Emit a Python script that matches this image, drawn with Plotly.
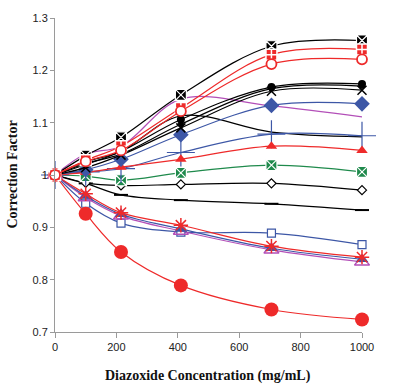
import plotly.graph_objects as go

conc = [0, 100, 215, 410, 705, 1000]

black_xsq = [1, 1.037, 1.072, 1.153, 1.246, 1.257]
black_circle = [1, 1.020, 1.045, 1.106, 1.168, 1.174]
black_line = [1, 1.022, 1.040, 1.097, 1.165, 1.170]
black_x = [1, 1.014, 1.038, 1.090, 1.160, 1.162]
black_drop = [1, 1.025, 1.045, 1.113, 1.082, 1.073]
black_odiamond = [1, 0.985, 0.980, 0.982, 0.984, 0.971]
black_dash = [1, 0.984, 0.962, 0.952, 0.945, 0.933]

red_sqplus = [1, 1.028, 1.055, 1.128, 1.230, 1.240]
red_ocircle = [1, 1.026, 1.047, 1.122, 1.212, 1.221]
red_triangle = [1, 1.005, 1.015, 1.030, 1.055, 1.047]
red_star = [1, 0.964, 0.928, 0.904, 0.864, 0.843]
red_bigcircle = [1, 0.926, 0.853, 0.789, 0.743, 0.724]

blue_diamond = [1, 1.010, 1.030, 1.077, 1.133, 1.136]
blue_cross = [1, 1.006, 1.012, 1.043, 1.078, 1.075]
blue_osquare = [1, 0.946, 0.908, 0.891, 0.889, 0.867]
blue_triangle = [1, 0.960, 0.925, 0.897, 0.860, 0.839]

purple_line = [1, 1.040, 1.055, 1.145, 1.132, 1.111]
purple_otriangle = [1, 0.957, 0.922, 0.893, 0.857, 0.834]

green_xsq = [1, 0.998, 0.990, 1.004, 1.019, 1.006]

y_ticks = [0.7, 0.8, 0.9, 1.0, 1.1, 1.2, 1.3]
y_tick_text = ["0.7", "0.8", "0.9", "1", "1.1", "1.2", "1.3"]
x_ticks = [0, 200, 400, 600, 800, 1000]

RED = "#ee2a2a"
BLUE = "#3d57a6"
BLACK = "#000000"
PURPLE = "#b34fb8"
GREEN = "#1f8a4c"

fig = go.Figure()


def add(y, color, symbol, size, fill=None, lcolor=None, lw=1.0, width=1.2, mode="lines+markers"):
    fig.add_trace(go.Scatter(
        x=conc, y=y, mode=mode, cliponaxis=False,
        line=dict(color=color, width=width, shape="spline", smoothing=1.0),
        marker=dict(symbol=symbol, size=size,
                    color=fill if fill is not None else color,
                    line=dict(color=lcolor if lcolor is not None else color, width=lw)),
        showlegend=False, hoverinfo="skip"))


add(purple_line, PURPLE, "circle", 1, mode="lines")
add(black_drop, BLACK, "circle", 1, mode="lines")
add(black_line, BLACK, "circle", 5)
add(black_dash, BLACK, "line-ew", 10, lw=2)
add(black_odiamond, BLACK, "diamond", 7, fill="white", lw=1.2)
add(green_xsq, GREEN, "square-x", 11, lcolor="white", lw=1.2)
add(blue_cross, BLUE, "cross-thin", 20, lw=1.2)
add(red_triangle, RED, "triangle-up", 10, lw=0)
add(blue_diamond, BLUE, "diamond", 12, lw=0)
add(black_x, BLACK, "x-thin", 9, lw=1.5)
add(black_circle, BLACK, "circle", 8, lw=0)
add(blue_osquare, BLUE, "square", 8, fill="white", lw=1.2)
add(purple_otriangle, PURPLE, "triangle-up-open", 13, lw=1.5)
add(blue_triangle, BLUE, "triangle-up", 11, lw=0)
add(red_star, RED, "asterisk", 12, lw=1.5)
add(red_bigcircle, RED, "circle", 14, lw=0)
add(black_xsq, BLACK, "square-x", 11, lcolor="white", lw=1.2)
add(red_sqplus, RED, "square-cross", 11, lcolor="white", lw=1.5)
add(red_ocircle, RED, "circle", 10, fill="white", lw=1.8)

fig.update_layout(
    width=403, height=389,
    margin=dict(l=55, r=41, t=15, b=57),
    paper_bgcolor="white", plot_bgcolor="white",
    font=dict(family="Liberation Sans, Arial", size=11, color="#222222"),
    xaxis=dict(range=[0, 1000], tickvals=x_ticks, showgrid=False, zeroline=False,
               showline=True, linecolor="#9a9a9a", linewidth=1,
               ticks="outside", ticklen=5, tickcolor="#9a9a9a"),
    yaxis=dict(range=[0.7, 1.3], tickvals=y_ticks, ticktext=y_tick_text,
               showgrid=False, zeroline=False,
               showline=True, linecolor="#9a9a9a", linewidth=1,
               ticks="outside", ticklen=4, tickcolor="#9a9a9a"),
    annotations=[
        dict(text="<b>Diazoxide Concentration (mg/mL)</b>", xref="paper", yref="paper",
             x=(208 - 55) / 307, y=-(376 - 332) / 317, showarrow=False,
             xanchor="center", yanchor="middle",
             font=dict(family="Liberation Serif, Times New Roman", size=14, color="#111111")),
        dict(text="<b>Correction Factor</b>", xref="paper", yref="paper",
             x=-(55 - 13) / 307, y=(332 - 173) / 317, showarrow=False, textangle=-90,
             xanchor="center", yanchor="middle",
             font=dict(family="Liberation Serif, Times New Roman", size=14, color="#111111")),
    ],
)

fig.write_html("out.html", config={"displayModeBar": False},
               post_script="document.body.style.margin='0';document.body.style.overflow='hidden';")
